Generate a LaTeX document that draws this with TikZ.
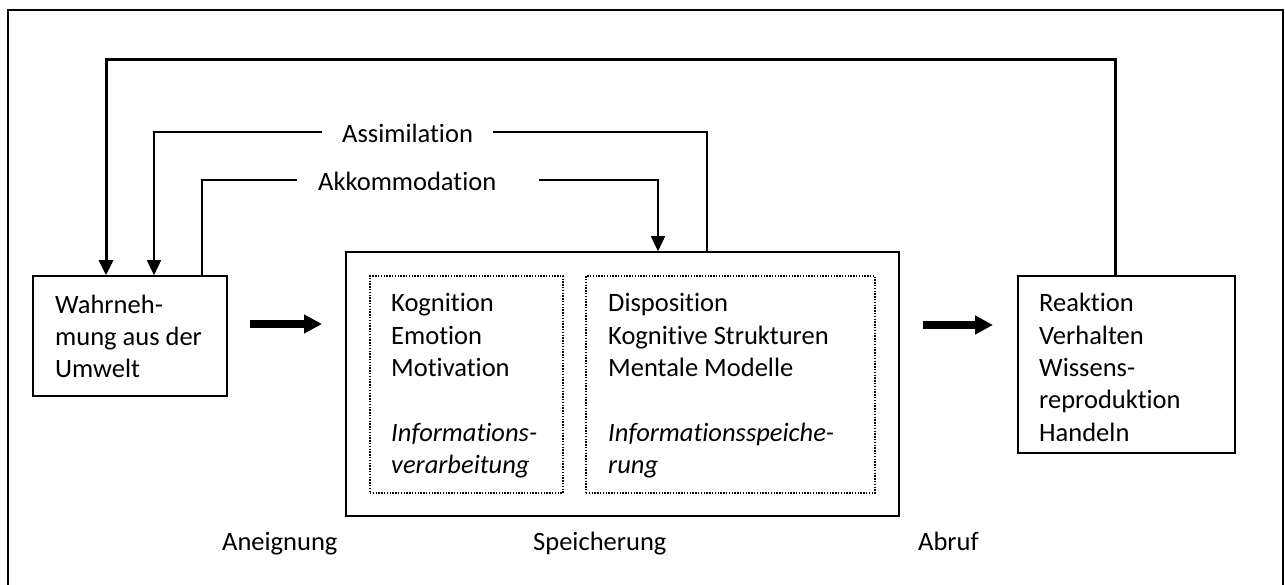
\documentclass[tikz,border=0pt]{standalone}
\usepackage{fontspec}
\setmainfont{Carlito}[Ligatures=NoCommon]
\usetikzlibrary{arrows.meta,calc}

% text block whose first baseline sits on the node's base anchor
\newcommand\txtblock[1]{\parbox[t]{400pt}{\raggedright\fontsize{26.5pt}{32.3pt}\selectfont #1}}

\tikzset{
  box/.style={draw, line width=1.6pt, minimum width=#1, inner sep=0pt},
  dotbox/.style={draw, line width=1.3pt, dash pattern=on 1.4pt off 1.4pt, inner sep=0pt},
  txt/.style={inner sep=0pt, anchor=base west},
  lbl/.style={inner sep=0pt, anchor=base west, font=\fontsize{26.5pt}{32.3pt}\selectfont},
  link/.style={line width=1.6pt},
  feedback/.style={line width=3pt},
  tip/.style={-{Triangle[length=15pt,width=14pt]}},
  bigarrow/.style={line width=7pt, -{Triangle[length=18pt,width=18pt]}},
}

\begin{document}
\begin{tikzpicture}[x=1pt,y=-1pt]
\useasboundingbox (0,0) rectangle (1285,585);

% open frame around the whole scheme
\draw[line width=2pt] (8,590) -- (8,10) -- (1283,10) -- (1283,590);

% boxes
\node[box=194pt, minimum height=120pt] (W) at (130,336) {};
\node[box=553pt, minimum height=264pt] (S) at (622.5,384) {};
\node[dotbox, minimum width=193pt, minimum height=217pt] (D1) at (466.5,384.5) {};
\node[dotbox, minimum width=289pt, minimum height=217pt] (D2) at (730.5,384.5) {};
\node[box=217pt, minimum height=177pt] (R) at (1126.5,364.5) {};

% box contents
\node[txt] (tW) at (55,313) {\txtblock{Wahrneh-\\mung aus der\\Umwelt}};
\node[txt] (tD1) at (391,312) {\txtblock{Kognition\\Emotion\\Motivation\\[32.3pt]\textit{Informations-}\\\textit{verarbeitung}}};
\node[txt] (tD2) at (608,312) {\txtblock{Disposition\\Kognitive Strukturen\\Mentale Modelle\\[32.3pt]\textit{Informationsspeiche-}\\\textit{rung}}};
\node[txt] (tR) at (1039,312) {\txtblock{Reaktion\\Verhalten\\Wissens-\\reproduktion\\Handeln}};

% phase labels
\node[lbl] (aneig) at (222,550) {Aneignung};
\node[lbl] (speich) at (533,550) {Speicherung};
\node[lbl] (abruf) at (918,550) {Abruf};

% loop labels
\node[lbl] (assim) at (342,143) {Assimilation};
\node[lbl] (akk) at (318,191) {Akkommodation};

% bend points of the loops
\coordinate (fbR) at (1115,60);
\coordinate (fbL) at (106,60);
\coordinate (asR) at (707,132);
\coordinate (asGapR) at (493,132);
\coordinate (asGapL) at (322,132);
\coordinate (asL) at (154,132);
\coordinate (akR) at (658,180);
\coordinate (akGapR) at (539,180);
\coordinate (akGapL) at (297,180);
\coordinate (akL) at (202,180);

% feedback from reaction back to perception
\draw[feedback, tip] (fbR |- R.north) -- (fbR) -- (fbL) -- (fbL |- W.north);

% assimilation loop
\draw[link] (asR |- S.north) -- (asR) -- (asGapR);
\draw[link, tip] (asGapL) -- (asL) -- (asL |- W.north);

% accommodation loop
\draw[link] (akL |- W.north) -- (akL) -- (akGapL);
\draw[link, tip] (akGapR) -- (akR) -- (akR |- S.north);

% main flow arrows
\coordinate (f1a) at (250,324);
\coordinate (f1b) at (322,324);
\coordinate (f2a) at (923,325);
\coordinate (f2b) at (993,325);
\draw[bigarrow] (f1a) -- (f1b);
\draw[bigarrow] (f2a) -- (f2b);
\end{tikzpicture}
\end{document}
